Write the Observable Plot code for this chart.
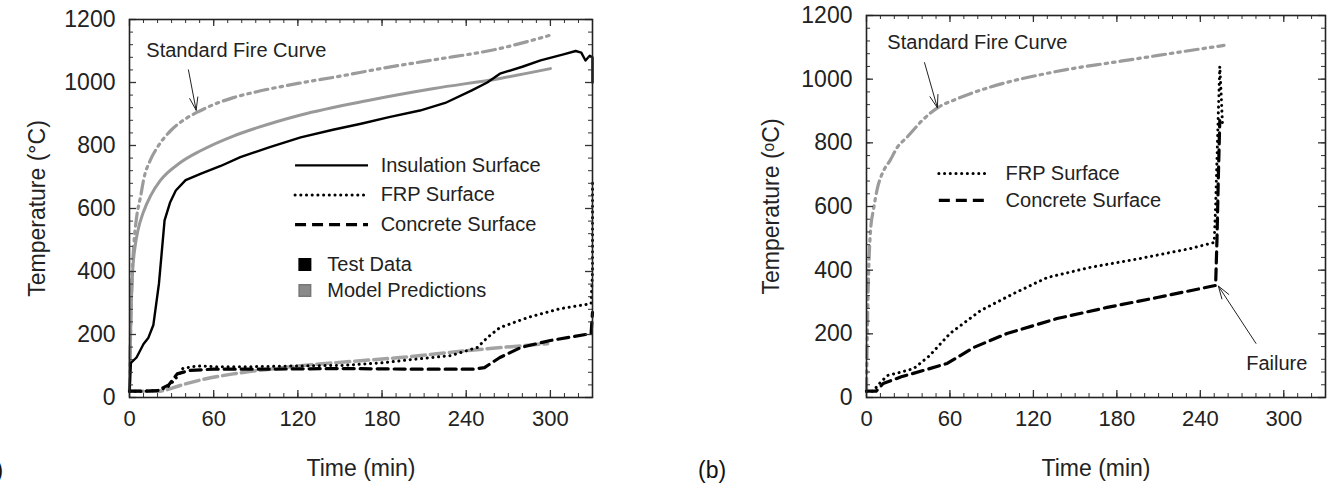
<!DOCTYPE html>
<html><head><meta charset="utf-8">
<script src="https://cdn.jsdelivr.net/npm/d3@7"></script>
<script src="https://cdn.jsdelivr.net/npm/@observablehq/plot@0.6"></script>
<style>
body{margin:0;background:#fff;width:1335px;height:495px;overflow:hidden;position:relative;font-family:"Liberation Sans",Arial,sans-serif;}
#a,#b{position:absolute;top:0;}
#a{left:0px} #b{left:680px}
.plab{position:absolute;font-size:23px;color:#111;line-height:1;}
</style></head><body>
<div id="a"></div><div id="b"></div>
<div class="plab" style="left:-25px;top:459px">(a)</div>
<div class="plab" style="left:698px;top:459px">(b)</div>
<script>
// ---------- Panel (a) data ----------
const fireA_t = [0,1,2,3,5,8,10,15,20,30,40,48,60,74,90,120,150,180,217,264,299];
const fireA_T = [20,250,400,480,570,640,690,755,795,850,885,905,930,952,970,997,1020,1045,1072,1108,1149];
const modelInsA_t = [0,1,2,4,6,10,15,22,36,51,74,90,122,170,217,264,300];
const modelInsA_T = [20,250,380,480,530,590,640,689,745,784,830,855,897,943,981,1013,1044];
const testInsA_t = [0,1,5,10,13.5,17,21,25,29,33,40,51,65,79,100,122,145,165,185,207,225,244,255,264,280,293,310,318,322,325,328,330,330];
const testInsA_T = [20,110,127,170,190,230,362,562,620,657,690,711,735,763,795,826,850,869,890,911,935,975,1000,1028,1050,1070,1090,1100,1095,1070,1085,1080,1000];
const testFrpA_t = [0,10,20,27,33,38,45,51,60,90,120,152,180,200,229,248,255,264,284,307,329,330,330];
const testFrpA_T = [20,20,22,32,60,92,98,100,98,98,100,102,110,120,133,159,190,222,254,282,298,400,690];
const testConcA_t = [0,10,20,28,34,43,60,100,150,200,245,253,264,279,300,329,330];
const testConcA_T = [20,20,22,40,75,86,90,90,92,90,90,95,127,159,181,203,270];
const modelConcA_t = [0,10,20,27,36,50,74,100,122,160,193,241,298];
const modelConcA_T = [20,20,20,25,38,55,75,90,101,115,127,149,171];

// ---------- Panel (b) data ----------
const fireB_t = [0,1,2,3,5,8,12,17,22,29,40,51,65,77,101,125,149,173,197,225,257];
const fireB_T = [20,300,450,530,590,660,710,745,785,817,870,910,938,958,990,1014,1034,1050,1066,1085,1106];
const frpB_t = [0,5,8,15,25,34,45,60,82,106,130,161,197,233,250,251,252,253,254,255,256];
const frpB_T = [20,20,38,69,80,91,130,201,273,327,377,409,437,468,487,600,750,900,1040,950,850];
const concB_t = [0,3,7,12,25,41,58,77,101,137,173,209,251,252,253,254];
const concB_T = [20,20,20,44,65,85,107,157,201,248,283,314,352,500,700,870];

// ---------- axes / ticks ----------
const xTicks = [0,60,120,180,240,300];
const yTicks = [0,200,400,600,800,1000,1200];
const xMinor = d3.range(0,331,10);
const yMinor = d3.range(0,1201,40);

// legend entries
const legendLinesA = ["Insulation Surface","FRP Surface","Concrete Surface"];
const legendSwatchA = ["Test Data","Model Predictions"];
const legendLinesB = ["FRP Surface","Concrete Surface"];

const STY = {
  fire:   {stroke:"#9b9b9b", strokeWidth:3.2, strokeDasharray:"13,5,2.5,5,2.5,5"},
  model:  {stroke:"#999", strokeWidth:3},
  modelD: {stroke:"#a3a3a3", strokeWidth:3.5, strokeDasharray:"14,5"},
  solid:  {stroke:"#000", strokeWidth:2.4},
  dotted: {stroke:"#000", strokeWidth:3, strokeDasharray:"0.1,5.6", strokeLinecap:"round"},
  dashed: {stroke:"#000", strokeWidth:3.2, strokeDasharray:"11,6"}
};
const FONT = "'Liberation Sans', Arial, sans-serif";
const TXT = 20;

const rows = (ts, Ts) => ts.map((t,i)=>({t, T:Ts[i]}));
const ln = (ts,Ts,s,curve="linear") => Plot.line(rows(ts,Ts), {x:"t", y:"T", curve, strokeLinejoin:"round", ...s});

function frameMarks(innerH, innerW) {
  return [
    Plot.tickX(xMinor, {x:d=>d, insetTop: innerH-4, stroke:"#333"}),
    Plot.tickX(xTicks, {x:d=>d, insetTop: innerH-7, stroke:"#333", strokeWidth:1.3}),
    Plot.tickX(xMinor, {x:d=>d, insetBottom: innerH-4, stroke:"#333"}),
    Plot.tickX(xTicks, {x:d=>d, insetBottom: innerH-7, stroke:"#333", strokeWidth:1.3}),
    Plot.tickY(yMinor, {y:d=>d, insetRight: innerW-4, stroke:"#333"}),
    Plot.tickY(yTicks, {y:d=>d, insetRight: innerW-7, stroke:"#333", strokeWidth:1.3}),
    Plot.tickY(yMinor, {y:d=>d, insetLeft: innerW-4, stroke:"#333"}),
    Plot.tickY(yTicks, {y:d=>d, insetLeft: innerW-7, stroke:"#333", strokeWidth:1.3}),
    Plot.frame({stroke:"#222", strokeWidth:1.6})
  ];
}

function makePanel({width, mL, mR, mT, mB, ylabel, yLabelOffset, marks}) {
  const H = 495;
  const innerH = H - mT - mB, innerW = width - mL - mR;
  return Plot.plot({
    width, height:H, marginLeft:mL, marginRight:mR, marginTop:mT, marginBottom:mB,
    style:{fontFamily:FONT, fontSize:"22px", color:"#222", background:"#fff"},
    x:{domain:[0,330]}, y:{domain:[0,1200]},
    marks:[
      Plot.axisX(xTicks, {tickSize:0, tickPadding:13, fontSize:22, tickFormat:d=>String(d), label:null}),
      Plot.axisY(yTicks, {tickSize:0, tickPadding:14, tickFormat:d=>String(d), label:ylabel, labelAnchor:"center", labelOffset:yLabelOffset, labelArrow:"none", fontSize:23}),
      Plot.text(["Time (min)"], {frameAnchor:"bottom", lineAnchor:"middle", dy:71, text:d=>d, fontSize:23, fill:"#222"}),
      ...marks,
      ...frameMarks(innerH, innerW)
    ]
  });
}

// ---------- Panel (a) ----------
const legA = legendLinesA.map((name,i)=>({name, i}));
const swA = legendSwatchA.map((name,i)=>({name, i}));
const legStyleA = [STY.solid, STY.dotted, STY.dashed];
const plotA = makePanel({
  width:620, mL:129, mR:28, mT:19, mB:98, ylabel:"Temperature (°C)", yLabelOffset:101,
  marks:[
    ln(fireA_t, fireA_T, STY.fire, "monotone-x"),
    ln(modelInsA_t, modelInsA_T, STY.model, "monotone-x"),
    ln(modelConcA_t, modelConcA_T, STY.modelD, "monotone-x"),
    ln(testInsA_t, testInsA_T, STY.solid),
    ln(testFrpA_t, testFrpA_T, STY.dotted),
    ln(testConcA_t, testConcA_T, STY.dashed),
    Plot.arrow([0], {x1:42, y1:1040, x2:47.5, y2:912, stroke:"#222", strokeWidth:1, headAngle:36, headLength:20}),
    Plot.text(["Standard Fire Curve"], {x:12, y:1101, text:d=>d, textAnchor:"start", fontSize:TXT, fill:"#222"}),
    ...legA.map((d)=>Plot.link([d], {x1:118, x2:170, y1:737-d.i*94, y2:737-d.i*94, ...legStyleA[d.i]})),
    Plot.text(legA, {x:179, y:d=>737-d.i*94, text:"name", textAnchor:"start", fontSize:TXT, fill:"#222"}),
    Plot.dot(swA, {x:125, y:d=>422-d.i*82, symbol:"square", r:6.5, fill:d=>d.i?"#8a8a8a":"#000", stroke:d=>d.i?"#777":"#000"}),
    Plot.text(swA, {x:141, y:d=>422-d.i*82, text:"name", textAnchor:"start", fontSize:TXT, fill:"#222"})
  ]
});
document.getElementById("a").append(plotA);

// ---------- Panel (b) ----------
const legB = legendLinesB.map((name,i)=>({name,i}));
const legStyleB = [STY.dotted, STY.dashed];
const plotB = makePanel({
  width:655, mL:186, mR:10, mT:15, mB:98, ylabel:"Temperature (ᵒC)", yLabelOffset:104,
  marks:[
    ln(fireB_t, fireB_T, STY.fire, "monotone-x"),
    ln(frpB_t, frpB_T, STY.dotted),
    ln(concB_t, concB_T, STY.dashed),
    Plot.arrow([0], {x1:41.7, y1:1052, x2:51, y2:910, stroke:"#222", strokeWidth:1, headAngle:36, headLength:20}),
    Plot.text(["Standard Fire Curve"], {x:15, y:1115, text:d=>d, textAnchor:"start", fontSize:TXT, fill:"#222"}),
    Plot.arrow([0], {x1:280, y1:170, x2:253, y2:350, stroke:"#222", strokeWidth:1, headAngle:36, headLength:20}),
    Plot.text(["Failure"], {x:295, y:107, text:d=>d, textAnchor:"middle", fontSize:TXT, fill:"#222"}),
    ...legB.map((d)=>Plot.link([d], {x1:52, x2:87, y1:704-d.i*85, y2:704-d.i*85, ...legStyleB[d.i]})),
    Plot.text(legB, {x:100, y:d=>704-d.i*85, text:"name", textAnchor:"start", fontSize:TXT, fill:"#222"})
  ]
});
document.getElementById("b").append(plotB);
</script></body></html>
